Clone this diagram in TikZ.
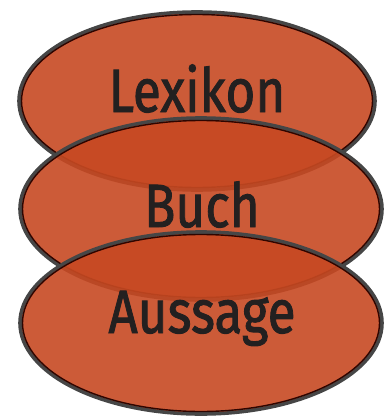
\documentclass[tikz,border=0pt]{standalone}
\usepackage{fontspec}
\newfontfamily\labfont{Fira Sans}[FakeBold=1.6]
\usetikzlibrary{shapes.geometric}
\definecolor{ellfill}{RGB}{199,73,34}
\definecolor{ellgray}{RGB}{70,70,70}
\definecolor{ellin}{RGB}{45,5,0}
\definecolor{txt}{RGB}{35,32,32}
\tikzset{
  ell/.style={ellipse, draw=ellgray, line width=3.6pt, fill=ellfill, fill opacity=0.9, draw opacity=1, text opacity=1, inner sep=0pt},
  inner/.style={draw=ellin, line width=1.4pt},
  lab/.style={font=\labfont\fontsize{61}{61}\selectfont, text=txt, xscale=0.84, anchor=base, inner sep=0pt}
}
\begin{document}
\begin{tikzpicture}[x=1pt,y=-1pt]
\useasboundingbox (0,0) rectangle (388,418);
% Lexikon
\node[ell, minimum width=356pt, minimum height=178pt] (lex) at (197,101) {};
\draw[inner] (lex.center) ellipse [x radius=175.5pt, y radius=86.5pt];
\node[lab] (lext) at (197,112) {Lexikon};
% Buch
\node[ell, minimum width=362pt, minimum height=182pt] (buch) at (201,209) {};
\draw[inner] (buch.center) ellipse [x radius=178.5pt, y radius=88.5pt];
\node[lab] (bucht) at (202,227) {Buch};
% Aussage
\node[ell, minimum width=362pt, minimum height=182pt] (aus) at (201,323) {};
\draw[inner] (aus.center) ellipse [x radius=178.5pt, y radius=88.5pt];
\node[lab] (aust) at (202,333) {Aussage};
\end{tikzpicture}
\end{document}
